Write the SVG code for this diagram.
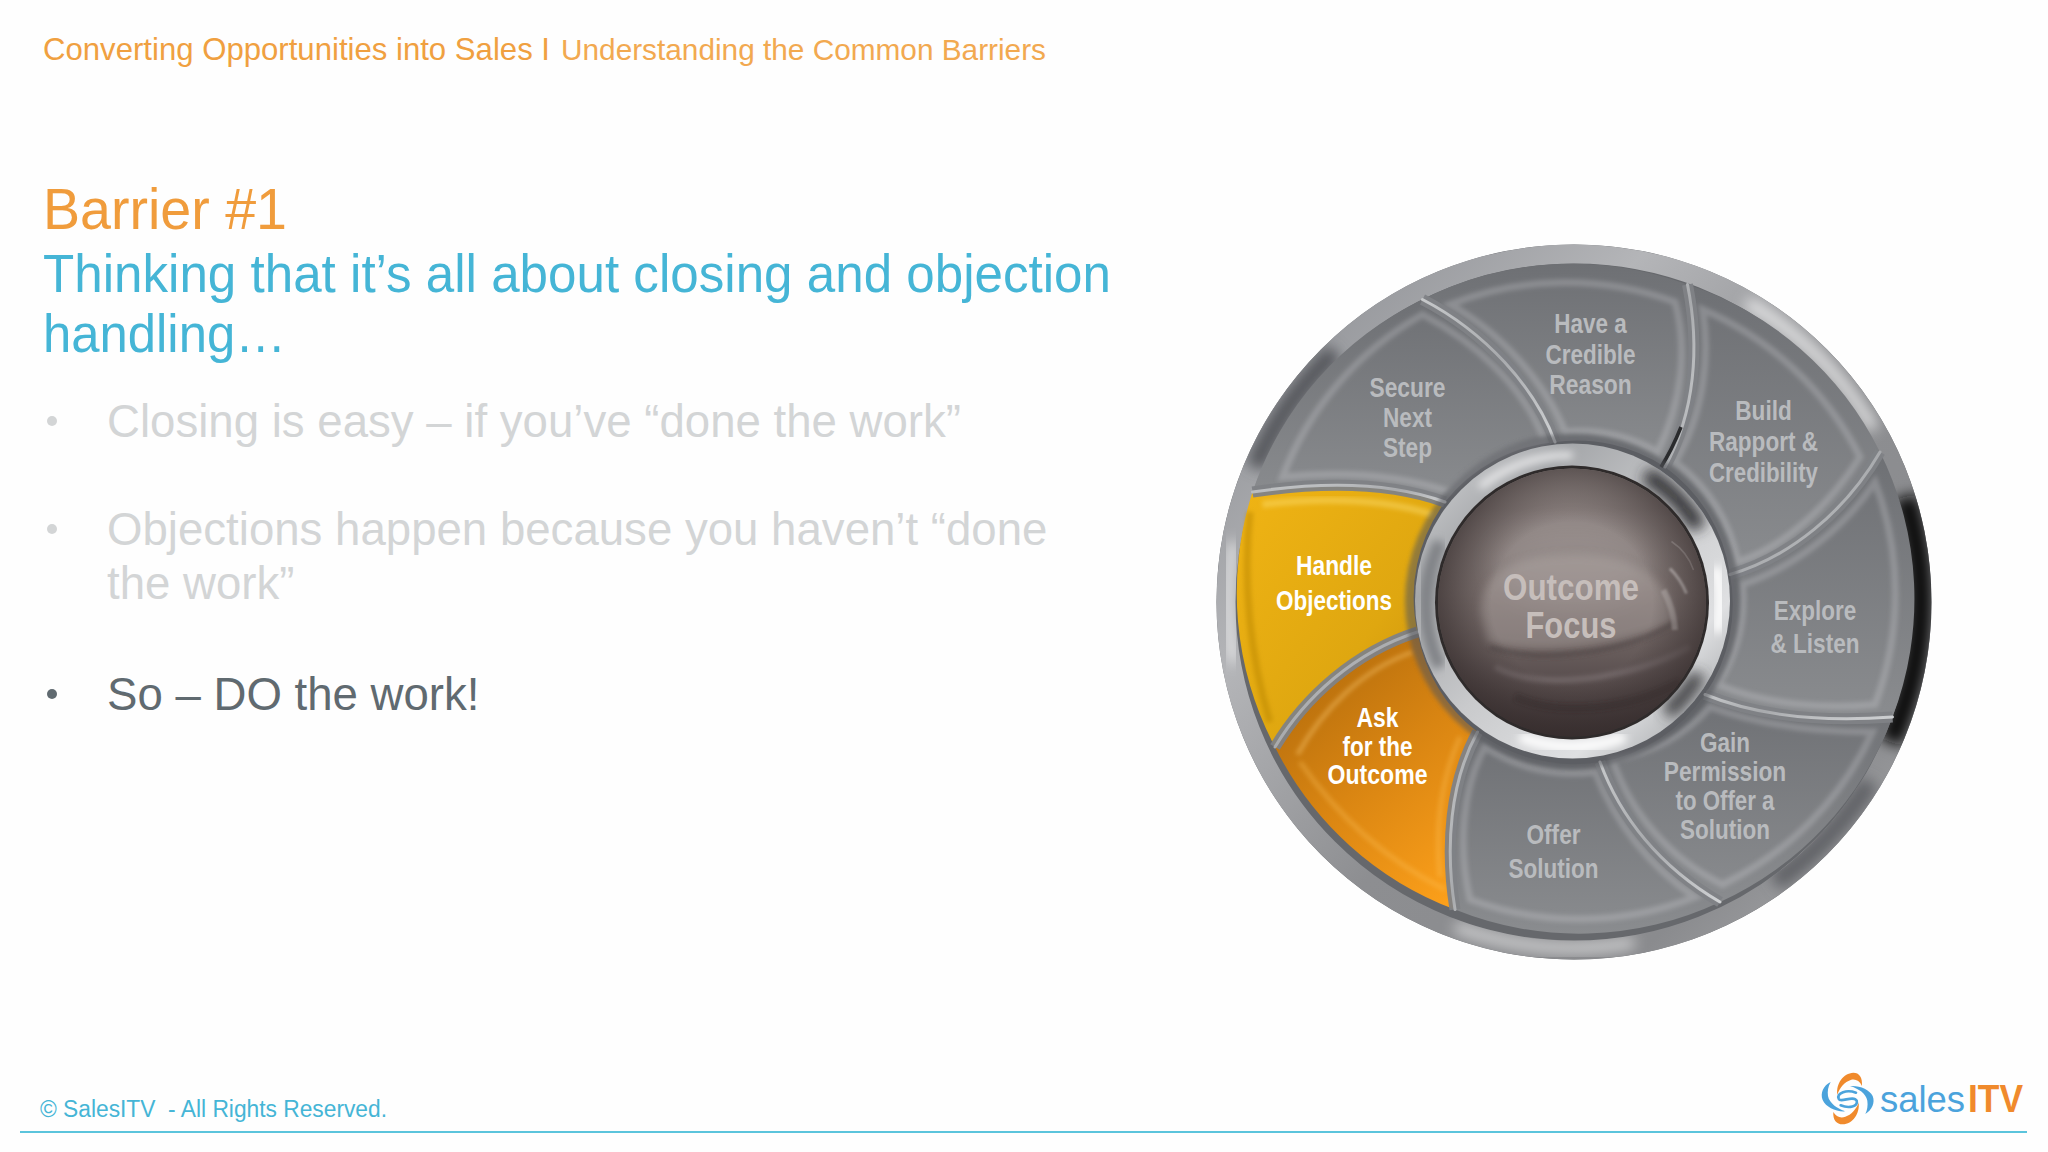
<svg xmlns="http://www.w3.org/2000/svg" width="2048" height="1152" viewBox="0 0 2048 1152">
<defs>
<style>
text{font-family:"Liberation Sans",Arial,sans-serif}
.bul{font-size:45.6px;fill:#d3d5d6}
.bd{fill:url(#pGrey)}
.gl{fill:none;stroke:#e8eaec;stroke-width:14;stroke-opacity:.22;filter:url(#b4)}
.lb{font-size:55px;font-weight:bold;fill:#b9bbbe;text-anchor:middle}
.lw{font-size:55px;font-weight:bold;fill:#fff;text-anchor:middle}
.dv{fill:none;stroke:url(#dvG);stroke-width:6;stroke-linecap:round}
.ds{fill:none;stroke:#808286;stroke-width:22;stroke-opacity:.95}
</style>
<filter id="b2" x="-30%" y="-30%" width="160%" height="160%"><feGaussianBlur stdDeviation="2"/></filter>
<filter id="b4" x="-30%" y="-30%" width="160%" height="160%"><feGaussianBlur stdDeviation="4"/></filter>
<filter id="b8" x="-30%" y="-30%" width="160%" height="160%"><feGaussianBlur stdDeviation="8"/></filter>
<filter id="b14" x="-40%" y="-40%" width="180%" height="180%"><feGaussianBlur stdDeviation="14"/></filter>
<filter id="b30" x="-50%" y="-50%" width="200%" height="200%"><feGaussianBlur stdDeviation="30"/></filter>
<linearGradient id="pGrey" x1="0" y1="0" x2="0" y2="1"><stop offset="0" stop-color="#6e7074"/><stop offset="1" stop-color="#8a8c8f"/></linearGradient>
<linearGradient id="pY" x1="0" y1="0" x2="1" y2="1"><stop offset="0" stop-color="#f0b414"/><stop offset=".6" stop-color="#dfa710"/><stop offset="1" stop-color="#c78d0c"/></linearGradient>
<linearGradient id="pO" x1=".2" y1="0" x2=".8" y2="1"><stop offset="0" stop-color="#b06a0c"/><stop offset=".5" stop-color="#d98512"/><stop offset="1" stop-color="#fb9f1a"/></linearGradient>
<linearGradient id="dvG" x1="0" y1="0" x2="1" y2="1"><stop offset="0" stop-color="#c6c8ca"/><stop offset=".5" stop-color="#a8aaad"/><stop offset="1" stop-color="#cfd1d3"/></linearGradient>
<linearGradient id="rim" x1="0" y1="0" x2="1" y2="1"><stop offset="0" stop-color="#85878c"/><stop offset=".3" stop-color="#b4b5b8"/><stop offset=".55" stop-color="#8d8e91"/><stop offset=".8" stop-color="#8a8b8e"/><stop offset="1" stop-color="#b0b1b3"/></linearGradient>
<linearGradient id="ring" x1="0" y1="0" x2="1" y2="1"><stop offset="0" stop-color="#d8d9db"/><stop offset=".25" stop-color="#a5a7aa"/><stop offset=".5" stop-color="#c9cacc"/><stop offset=".75" stop-color="#dfe0e2"/><stop offset="1" stop-color="#8f9194"/></linearGradient>
<linearGradient id="sph" x1="0" y1="0" x2="0" y2="1"><stop offset="0" stop-color="#aaa19e"/><stop offset=".15" stop-color="#8e8482"/><stop offset=".45" stop-color="#7d7270"/><stop offset=".7" stop-color="#655a59"/><stop offset="1" stop-color="#3c3233"/></linearGradient>
<radialGradient id="vig" cx=".5" cy=".5" r=".5"><stop offset=".6" stop-color="#352c2c" stop-opacity="0"/><stop offset="1" stop-color="#352c2c" stop-opacity=".65"/></radialGradient>
<clipPath id="rimClip"><path clip-rule="evenodd" d="M33,770a715,715 0 1,0 1430,0a715,715 0 1,0 -1430,0zM71,770a677,677 0 1,0 1354,0a677,677 0 1,0 -1354,0z"/></clipPath>
<clipPath id="sphClip"><circle cx="744" cy="771" r="270"/></clipPath>
<clipPath id="ringClip"><path clip-rule="evenodd" d="M430,768a315,315 0 1,0 630,0a315,315 0 1,0 -630,0zM472,771a272,272 0 1,0 544,0a272,272 0 1,0 -544,0z"/></clipPath>
</defs>
<rect width="2048" height="1152" fill="#fefefe"/>

<g id="header">
<text x="43" y="60" font-size="32" fill="#f0a040" textLength="507" lengthAdjust="spacingAndGlyphs">Converting Opportunities into Sales I</text>
<text x="561" y="60" font-size="30" fill="#f2a950" textLength="485" lengthAdjust="spacingAndGlyphs">Understanding the Common Barriers</text>
</g>
<g id="title">
<text x="43" y="229" font-size="58" fill="#f09c3c" textLength="244" lengthAdjust="spacingAndGlyphs">Barrier #1</text>
<text x="43" y="292" font-size="53" fill="#45b5d6" textLength="1068" lengthAdjust="spacingAndGlyphs">Thinking that it’s all about closing and objection</text>
<text x="43" y="352" font-size="53" fill="#45b5d6" textLength="243" lengthAdjust="spacingAndGlyphs">handling…</text>
</g>
<g id="bullets">
<circle cx="52" cy="421" r="5" fill="#d3d5d6"/>
<text class="bul" x="107" y="437">Closing is easy – if you’ve “done the work”</text>
<circle cx="52" cy="529" r="5" fill="#d3d5d6"/>
<text class="bul" x="107" y="545">Objections happen because you haven’t “done</text>
<text class="bul" x="107" y="599">the work”</text>
<circle cx="52" cy="694" r="5" fill="#606a70"/>
<text x="107" y="710" font-size="45.6" fill="#606a70">So – DO the work!</text>
</g>

<g id="wheel" transform="translate(1200 217) scale(.5)">
<g id="rim-ring">
<circle cx="748" cy="770" r="715" fill="#66686c"/>
<circle cx="748" cy="770" r="696" fill="none" stroke="url(#rim)" stroke-width="38"/>
<g clip-path="url(#rimClip)">
<path d="M1094,171A692,692 0 0,1 1347,424" fill="none" stroke="#fff" stroke-width="22" stroke-opacity=".8" filter="url(#b14)"/>
<path d="M1410,560A692,692 0 0,1 1380,1050" fill="none" stroke="#111" stroke-width="50" filter="url(#b14)"/>
<path d="M868,1451A692,692 0 0,1 511,1420" fill="none" stroke="#fff" stroke-width="18" stroke-opacity=".7" filter="url(#b14)"/>
<path d="M67,890A692,692 0 0,1 67,650" fill="none" stroke="#fff" stroke-width="18" stroke-opacity=".8" filter="url(#b14)"/>
<path d="M270,270A692,692 0 0,0 110,500" fill="none" stroke="#55575b" stroke-width="40" filter="url(#b14)"/>
<path d="M1150,1330A692,692 0 0,0 1340,1130" fill="none" stroke="#606266" stroke-width="40" filter="url(#b14)"/>
</g>
</g>

<g id="node-secure">
<path class="bd" d="M445,165C570,230 670,340 710,450A320,320 0 0,0 490,570C380,530 240,530 105,550A660,660 0 0,1 445,165Z"/>
<path class="gl" d="M445,195C550,250 650,340 690,450A320,320 0 0,0 500,550C380,510 260,510 165,520A630,630 0 0,1 445,195Z"/>
<text class="lb"><tspan x="415" y="360" textLength="152" lengthAdjust="spacingAndGlyphs">Secure</tspan><tspan x="415" y="420" textLength="98" lengthAdjust="spacingAndGlyphs">Next</tspan><tspan x="415" y="480" textLength="98" lengthAdjust="spacingAndGlyphs">Step</tspan></text>
</g>
<g id="node-credible">
<path class="bd" d="M975,135C1000,260 990,390 930,500A320,320 0 0,0 710,450C670,340 570,230 445,165A660,660 0 0,1 975,135Z"/>
<path class="gl" d="M950,170C975,260 965,370 915,470A320,320 0 0,0 730,430C690,330 600,230 500,175A630,630 0 0,1 950,170Z"/>
<text class="lb"><tspan x="781" y="232" textLength="145" lengthAdjust="spacingAndGlyphs">Have a</tspan><tspan x="781" y="293" textLength="180" lengthAdjust="spacingAndGlyphs">Credible</tspan><tspan x="781" y="354" textLength="165" lengthAdjust="spacingAndGlyphs">Reason</tspan></text>
</g>
<g id="node-rapport">
<path class="bd" d="M1360,470C1290,590 1180,680 1060,715A320,320 0 0,0 930,500C990,390 1000,260 975,135A660,660 0 0,1 1360,470Z"/>
<path class="gl" d="M1320,480C1260,575 1170,660 1075,690A320,320 0 0,0 950,490C1010,390 1020,270 1005,185A630,630 0 0,1 1320,480Z"/>
<text class="lb"><tspan x="1127" y="406" textLength="113" lengthAdjust="spacingAndGlyphs">Build</tspan><tspan x="1127" y="468" textLength="218" lengthAdjust="spacingAndGlyphs">Rapport &amp;</tspan><tspan x="1127" y="529" textLength="218" lengthAdjust="spacingAndGlyphs">Credibility</tspan></text>
</g>
<g id="node-explore">
<path class="bd" d="M1385,1000C1250,1010 1120,1000 1010,955A320,320 0 0,0 1060,715C1180,680 1290,590 1360,470A660,660 0 0,1 1385,1000Z"/>
<path class="gl" d="M1350,975C1250,985 1130,975 1035,935A320,320 0 0,0 1085,735C1190,700 1290,620 1350,530A630,630 0 0,1 1350,975Z"/>
<text class="lb"><tspan x="1230" y="805" textLength="165" lengthAdjust="spacingAndGlyphs">Explore</tspan><tspan x="1230" y="872" textLength="178" lengthAdjust="spacingAndGlyphs">&amp; Listen</tspan></text>
</g>
<g id="node-permission">
<path class="bd" d="M1040,1370C920,1300 840,1200 800,1090A320,320 0 0,0 1010,955C1120,1000 1250,1010 1385,1000A660,660 0 0,1 1040,1370Z"/>
<path class="gl" d="M1045,1335C940,1285 860,1190 825,1085A320,320 0 0,0 1020,980C1130,1020 1240,1030 1345,1030A630,630 0 0,1 1045,1335Z"/>
<text class="lb"><tspan x="1050" y="1070" textLength="100" lengthAdjust="spacingAndGlyphs">Gain</tspan><tspan x="1050" y="1128" textLength="245" lengthAdjust="spacingAndGlyphs">Permission</tspan><tspan x="1050" y="1185" textLength="198" lengthAdjust="spacingAndGlyphs">to Offer a</tspan><tspan x="1050" y="1243" textLength="180" lengthAdjust="spacingAndGlyphs">Solution</tspan></text>
</g>
<g id="node-offer">
<path class="bd" d="M510,1385C490,1260 500,1130 555,1030A320,320 0 0,0 800,1090C840,1200 920,1300 1040,1370A660,660 0 0,1 510,1385Z"/>
<path class="gl" d="M540,1365C515,1260 525,1140 570,1060A320,320 0 0,0 790,1110C830,1210 900,1300 990,1360A630,630 0 0,1 540,1365Z"/>
<text class="lb"><tspan x="707" y="1253" textLength="108" lengthAdjust="spacingAndGlyphs">Offer</tspan><tspan x="707" y="1322" textLength="180" lengthAdjust="spacingAndGlyphs">Solution</tspan></text>
</g>
<g id="node-ask">
<path fill="url(#pO)" d="M150,1060C210,960 310,870 435,830A320,320 0 0,0 555,1030C500,1130 490,1260 510,1385A660,660 0 0,1 150,1060Z"/>
<path fill="none" stroke="#ffd27a" stroke-width="10" stroke-opacity=".35" filter="url(#b4)" d="M195,1075C245,985 325,905 425,870"/>
<path fill="none" stroke="#ffc860" stroke-width="10" stroke-opacity=".3" filter="url(#b4)" d="M200,1090C280,1205 380,1290 490,1345"/>
<path fill="none" stroke="#ffc860" stroke-width="10" stroke-opacity=".3" filter="url(#b4)" d="M520,1040C480,1130 470,1220 480,1320"/>
<text class="lw"><tspan x="355" y="1019" textLength="84" lengthAdjust="spacingAndGlyphs">Ask</tspan><tspan x="355" y="1077" textLength="140" lengthAdjust="spacingAndGlyphs">for the</tspan><tspan x="355" y="1134" textLength="200" lengthAdjust="spacingAndGlyphs">Outcome</tspan></text>
</g>
<g id="node-handle">
<path fill="url(#pY)" d="M105,550C240,530 380,530 490,570A320,320 0 0,0 435,830C310,870 210,960 150,1060A660,660 0 0,1 105,550Z"/>
<path fill="none" stroke="#ffe37a" stroke-width="14" stroke-opacity=".4" filter="url(#b4)" d="M125,575C250,560 370,565 465,595"/>
<path fill="none" stroke="#b9850c" stroke-width="14" stroke-opacity=".5" filter="url(#b4)" d="M100,590C85,730 100,880 140,1010"/>
<text class="lw"><tspan x="268" y="716" textLength="152" lengthAdjust="spacingAndGlyphs">Handle</tspan><tspan x="268" y="785" textLength="232" lengthAdjust="spacingAndGlyphs">Objections</tspan></text>
</g>

<g id="dividers">
<path class="ds" d="M445,165C570,230 670,340 710,450M975,135C1000,260 990,390 930,500M1360,470C1290,590 1180,680 1060,715M1385,1000C1250,1010 1120,1000 1010,955M1040,1370C920,1300 840,1200 800,1090M510,1385C490,1260 500,1130 555,1030M150,1060C210,960 310,870 435,830M105,550C240,530 380,530 490,570"/>
<path class="dv" d="M445,165C570,230 670,340 710,450"/>
<path class="dv" d="M975,135C1000,260 990,390 930,500"/>
<path class="dv" d="M1360,470C1290,590 1180,680 1060,715"/>
<path class="dv" d="M1385,1000C1250,1010 1120,1000 1010,955"/>
<path class="dv" d="M1040,1370C920,1300 840,1200 800,1090"/>
<path class="dv" d="M510,1385C490,1260 500,1130 555,1030"/>
<path class="dv" d="M150,1060C210,960 310,870 435,830"/>
<path class="dv" d="M105,550C240,530 380,530 490,570"/>
<path d="M962,420C950,450 938,475 922,500" fill="none" stroke="#2a2b2d" stroke-width="7"/>
</g>

<g id="node-outcome">
<circle cx="745" cy="768" r="335" fill="#55575b" opacity=".55" filter="url(#b4)"/>
<circle cx="745" cy="768" r="315" fill="url(#ring)"/>
<g clip-path="url(#ringClip)">
<path d="M891,515A292,292 0 0,1 998,622" fill="none" stroke="#2e2f31" stroke-width="34" filter="url(#b14)"/>
<path d="M998,914A292,292 0 0,1 933,992" fill="none" stroke="#3a3b3d" stroke-width="30" filter="url(#b14)"/>
<path d="M1032,700A292,292 0 0,1 1035,830" fill="none" stroke="#fff" stroke-width="20" filter="url(#b8)"/>
<path d="M640,1040A292,292 0 0,0 850,1040" fill="none" stroke="#fff" stroke-width="20" filter="url(#b8)"/>
<path d="M480,650A292,292 0 0,0 480,900" fill="none" stroke="#7f8185" stroke-width="26" filter="url(#b8)"/>
<path d="M560,540A292,292 0 0,1 745,476" fill="none" stroke="#f4f4f5" stroke-width="12" filter="url(#b8)"/>
</g>
<circle cx="744" cy="771" r="274" fill="#2f2b2b"/>
<circle cx="744" cy="771" r="268" fill="url(#sph)"/>
<g clip-path="url(#sphClip)">
<ellipse cx="744" cy="690" rx="160" ry="80" fill="#fff" opacity=".13" filter="url(#b30)"/>
<path d="M560,790C560,700 650,675 750,675C860,675 950,720 945,810C850,860 660,880 575,850Z" fill="#b3aaa7" opacity=".42" filter="url(#b8)"/>
<path d="M580,860C680,895 860,870 950,810" fill="none" stroke="#4c4241" stroke-width="10" stroke-opacity=".5" filter="url(#b4)"/>
<path d="M590,900C680,950 860,925 980,860" fill="none" stroke="#a1989a" stroke-width="12" stroke-opacity=".3" filter="url(#b4)"/>
<path d="M630,960C720,1000 860,985 960,930" fill="none" stroke="#2e2625" stroke-width="16" stroke-opacity=".4" filter="url(#b4)"/>
<path d="M943,649Q975,670 987,706" fill="none" stroke="#d5cfcd" stroke-width="3" stroke-opacity=".6"/>
<path d="M940,703Q962,725 973,753" fill="none" stroke="#e4dfdd" stroke-width="6" stroke-opacity=".75" filter="url(#b2)"/>
<path d="M927,746Q948,785 950,826" fill="none" stroke="#c4bdbb" stroke-width="12" stroke-opacity=".55" filter="url(#b2)"/>
<circle cx="744" cy="771" r="268" fill="url(#vig)"/>
</g>
<text font-size="74" font-weight="bold" fill="#c6bebb" text-anchor="middle"><tspan x="742" y="766" textLength="272" lengthAdjust="spacingAndGlyphs">Outcome</tspan><tspan x="742" y="842" textLength="182" lengthAdjust="spacingAndGlyphs">Focus</tspan></text>
</g>
</g>

<g id="footer">
<text x="40" y="1117" font-size="23" fill="#45b5d6" xml:space="preserve" textLength="347" lengthAdjust="spacingAndGlyphs">© SalesITV  - All Rights Reserved.</text>
<rect x="20" y="1131" width="2007" height="2" fill="#5bc4dc"/>
</g>

<g id="logo">
<g transform="translate(1800 1060) scale(.3333)">
<path fill="#f08a2c" d="M112,104C108,70 130,40 160,38C178,38 188,52 186,78C178,62 166,56 152,60C134,66 120,82 112,104Z"/>
<path fill="#f08a2c" d="M176,128C180,160 158,192 128,193C110,193 98,180 100,156C108,170 122,176 136,170C154,164 168,148 176,128Z"/>
<path fill="#4ba3dc" d="M92,66C70,76 60,100 68,120C78,142 108,156 136,154C112,146 88,130 84,108C82,94 84,80 92,66Z"/>
<path fill="#4ba3dc" d="M196,162C216,150 226,128 218,108C208,88 180,76 150,78C176,86 198,100 202,122C204,136 202,150 196,162Z"/>
<path fill="none" stroke="#4ba3dc" stroke-width="8" stroke-linecap="round" d="M168,98C140,88 110,98 116,116C122,130 160,104 170,122C176,140 146,146 122,136"/>
</g>
<text x="1880" y="1112" font-size="36" fill="#4ba3dc" textLength="85" lengthAdjust="spacingAndGlyphs">sales</text>
<text x="1968" y="1112" font-size="38" font-weight="bold" fill="#f08a2c" textLength="55" lengthAdjust="spacingAndGlyphs">ITV</text>
</g>
</svg>
